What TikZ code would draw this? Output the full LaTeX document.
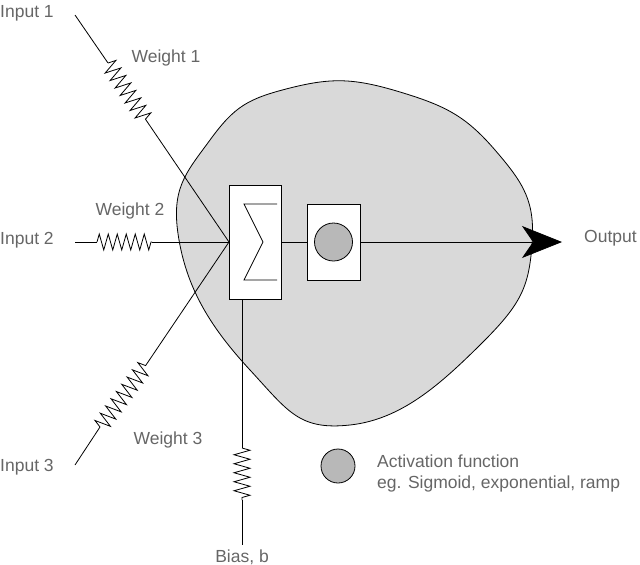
\documentclass[tikz,border=0pt]{standalone}
\usepackage{fontspec}
\setmainfont{Liberation Sans}
\usetikzlibrary{decorations.pathmorphing,arrows.meta}
\begin{document}
\begin{tikzpicture}[x=1pt,y=-1pt,
  lbl/.style={text=black!60,font=\fontsize{17.5}{20}\selectfont,inner sep=0pt},
  wire/.style={draw=black,line width=0.8pt},
  spring/.style={decorate,decoration={zigzag,segment length=9pt,amplitude=8pt}},
  boxw/.style={draw,fill=white,line width=0.8pt,inner sep=0pt}]
\useasboundingbox (0,0) rectangle (640,565);
\fill[black!15] plot[smooth cycle,tension=0.8] coordinates{(179,240)(210,140)(290,88)(400,92)(495,150)(532,245)(480,345)(350,425)(250,370)};
\draw[line width=0.8pt] plot[smooth cycle,tension=0.8] coordinates{(179,240)(210,140)(290,88)(400,92)(495,150)(532,245)(480,345)(350,425)(250,370)};
\coordinate (j) at (229,242);
\coordinate (i1) at (75,15);
\coordinate (i2) at (75,242);
\coordinate (i3) at (75,465);
\coordinate (s1a) at (108,63); \coordinate (s1b) at (146,120);
\coordinate (s2a) at (97,242); \coordinate (s2b) at (152,242);
\coordinate (s3a) at (100,427); \coordinate (s3b) at (146,365);
\draw[wire] (i1)--(s1a); \draw[wire,spring] (s1a)--(s1b); \draw[wire] (s1b)--(j);
\draw[wire] (i2)--(s2a); \draw[wire,spring] (s2a)--(s2b); \draw[wire] (s2b)--(j);
\draw[wire] (i3)--(s3a); \draw[wire,spring] (s3a)--(s3b); \draw[wire] (s3b)--(j);
\coordinate (b1) at (242,448); \coordinate (b2) at (242,500); \coordinate (b3) at (242,545);
\draw[wire] (242,299)--(b1); \draw[wire,spring] (b1)--(b2); \draw[wire] (b2)--(b3);
\coordinate (out) at (562,242);
\draw[wire,-{Stealth[length=40pt,width=32pt,inset=11pt]}] (333,242)--(out);
\node[boxw,minimum width=52pt,minimum height=114pt] (sum) at (255,242) {};
\draw[line width=0.8pt] (277,204)--(244,204)--(263,242)--(244,280)--(277,280);
\node[boxw,minimum width=53pt,minimum height=76pt] (act) at (333.5,242) {};
\node[draw,fill=black!28,circle,minimum size=38pt,line width=0.8pt,inner sep=0pt] (ac) at (333.5,242) {};
\draw[wire] (sum.east)--(act.west);
\node[lbl,anchor=west] (outl) at (584,238) {Output};
\node[lbl] (bias) at (242,557) {Bias, b};
\node[lbl,anchor=west] (in1) at (0,13) {Input 1};
\node[lbl,anchor=west] (in2) at (0,240) {Input 2};
\node[lbl,anchor=west] (in3) at (0,467) {Input 3};
\node[lbl] (w1) at (166,58) {Weight 1};
\node[lbl] (w2) at (130,211) {Weight 2};
\node[lbl] (w3) at (168,440) {Weight 3};
\node[draw,fill=black!28,circle,minimum size=34pt,line width=0.8pt,inner sep=0pt] (leg) at (338,466) {};
\node[lbl,anchor=west] (legt) at (377,461) {Activation function};
\node[lbl,anchor=west] (legt2) at (377,484) {eg. Sigmoid, exponential, ramp};
\end{tikzpicture}
\end{document}
